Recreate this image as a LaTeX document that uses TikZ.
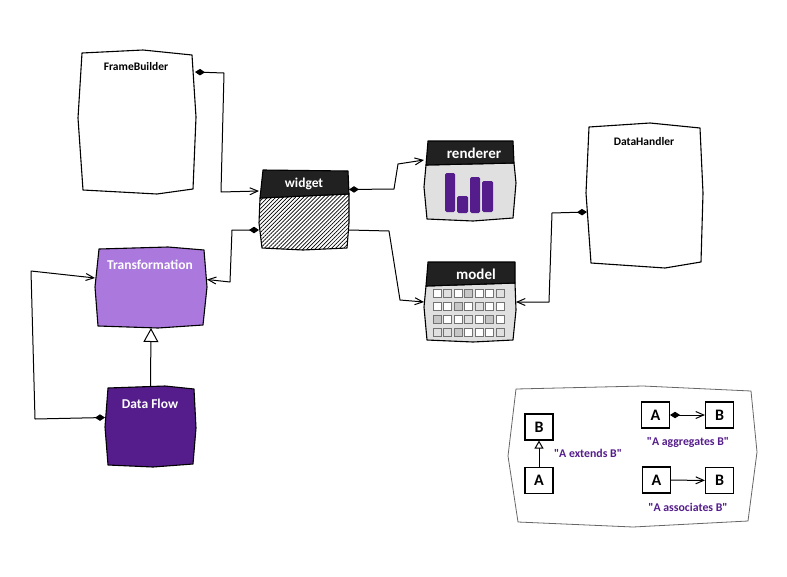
\documentclass[tikz,border=0pt]{standalone}
\usepackage{fontspec}
\newfontfamily\handfont{Carlito}
\usetikzlibrary{arrows.meta,patterns.meta}
\definecolor{darkbar}{RGB}{33,33,33}
\definecolor{deeppurple}{RGB}{85,29,139}
\definecolor{softpurple}{RGB}{171,120,222}
\definecolor{panelgray}{RGB}{224,224,224}
\definecolor{cellw}{RGB}{255,255,255}
\definecolor{celll}{RGB}{224,224,224}
\definecolor{cellg}{RGB}{198,198,198}
\tikzset{
    outline/.style={draw=black,line width=1.1pt,line join=round},
    anchorbox/.style={inner sep=0pt,outer sep=0pt,minimum width=#1},
    title/.style={font=\handfont\bfseries\fontsize{11.5}{14}\selectfont},
    whitetitle/.style={text=white,font=\handfont\bfseries\fontsize{13.5}{16}\selectfont},
    bartitle/.style={text=white,font=\handfont\bfseries\fontsize{15}{17}\selectfont},
    legendbox/.style={draw=black,fill=white,line width=1.1pt,inner sep=0pt,minimum width=28pt,minimum height=26pt,font=\handfont\bfseries\fontsize{16}{18}\selectfont},
    legendtext/.style={text=deeppurple,font=\handfont\bfseries\fontsize{11.8}{13}\selectfont},
    link/.style={draw=black,line width=1pt,line join=round},
    assoc/.style={link,-{Straight Barb[length=8pt,width=7pt]}},
    aggr/.style={link,{Diamond[length=10pt,width=6.5pt]}-{Straight Barb[length=8pt,width=7pt]}},
    extends/.style={link,-{Triangle[open,fill=white,length=14pt,width=15pt]}},
    extendsmini/.style={link,-{Triangle[open,fill=white,length=8pt,width=9pt]}},
}
\begin{document}
\begin{tikzpicture}[x=1pt,y=-1pt]
    \useasboundingbox (0,0) rectangle (787,576);
    % frame builder
    \draw[outline,fill=white] (82,53) -- (143,50) -- (192,55) -- (196,117) -- (193,189) -- (157,194) -- (83,190) -- (78,118) -- cycle;
    \node[anchorbox=116pt,minimum height=141pt] (framebuilder) at (137,122) {};
    \node[title] (framebuildertitle) at (136,67) {FrameBuilder};
    % transformation
    \draw[outline,fill=softpurple] (99,249) -- (168,247) -- (204,250) -- (207,287) -- (203,325) -- (158,328) -- (98,326) -- (95,287) -- cycle;
    \node[anchorbox=112pt,minimum height=81pt] (transformation) at (151,287.5) {};
    \node[whitetitle] (transformationtitle) at (150,265) {Transformation};
    % data flow
    \draw[outline,fill=deeppurple] (108,388) -- (165,386) -- (194,389) -- (196,428) -- (193,464) -- (153,467) -- (108,465) -- (105,427) -- cycle;
    \node[anchorbox=91pt,minimum height=81pt] (dataflow) at (150.5,426.5) {};
    \node[whitetitle] (dataflowtitle) at (150,404) {Data Flow};
    % widget
    \draw[outline,pattern={Lines[angle=45,distance=2.8pt,line width=0.7pt]}] (260,198) -- (349,194) -- (349,223) -- (347,248) -- (303,250) -- (262,248) -- (259,223) -- cycle;
    \draw[outline,fill=darkbar] (263,170) -- (348,171) -- (349,194) -- (260,198) -- cycle;
    \node[anchorbox=90pt,minimum height=80pt] (widget) at (304,210) {};
    \node[whitetitle] (widgettitle) at (304,184) {widget};
    % renderer
    \draw[outline,fill=panelgray] (426,165) -- (514,163) -- (516,183) -- (513,218) -- (473,221) -- (427,219) -- (424,187) -- cycle;
    \draw[outline,fill=darkbar] (428,141) -- (513,141) -- (514,163) -- (426,165) -- cycle;
    \node[anchorbox=92pt,minimum height=80pt] (renderer) at (470,181) {};
    \node[bartitle] (renderertitle) at (474,153) {renderer};
    \foreach \xa/\xb/\ytop/\ybot in {445/455/173/212,457/468/196/213,470/480/177/213,482/493/181/212}
        \fill[deeppurple,rounded corners=1.5pt] (\xa,\ytop) rectangle (\xb,\ybot);
    % model
    \draw[outline,fill=panelgray] (426,286) -- (515,283) -- (516,310) -- (513,340) -- (473,342) -- (427,340) -- (424,307) -- cycle;
    \draw[outline,fill=darkbar] (428,262) -- (515,262) -- (515,283) -- (426,286) -- cycle;
    \node[anchorbox=92pt,minimum height=80pt] (model) at (470,302) {};
    \node[bartitle] (modeltitle) at (476,274) {model};
    \foreach \celly/\cells in {293.5/{w,l,w,g,w,w,l},306.5/{w,w,g,w,l,w,w},319/{g,w,w,l,w,g,w},332/{l,l,g,w,w,w,l}}
        \foreach \c [count=\i from 0] in \cells
            \draw[draw=black!55,line width=0.8pt,fill=cell\c] ({437+10.5*\i-4},\celly-4) rectangle ({437+10.5*\i+4},\celly+4);
    % data handler
    \draw[outline,fill=white] (589,127) -- (650,123) -- (700,128) -- (703,193) -- (701,262) -- (665,268) -- (591,263) -- (586,193) -- cycle;
    \node[anchorbox=116pt,minimum height=141pt] (datahandler) at (645,195) {};
    \node[title] (datahandlertitle) at (644,141.5) {DataHandler};
    % connections
    \draw[aggr] ([yshift=50pt]framebuilder.east) -- (224,73) -- (221,192) -- ([yshift=19pt]widget.west);
    \draw[aggr] ([yshift=20.5pt]widget.east) -- (394,189) -- (398,164) -- ([yshift=21pt]renderer.west);
    \draw[assoc] ([yshift=-20pt]widget.east) -- (389,231) -- (400,300) -- (model.west);
    \draw[aggr] ([yshift=-20pt]widget.west) -- (232,230) -- (230,282) -- ([yshift=8pt]transformation.east);
    \draw[aggr] ([yshift=9pt]dataflow.west) -- (35,419) -- (31,271) -- ([yshift=9.5pt]transformation.west);
    \draw[aggr] ([yshift=-17pt]datahandler.west) -- (552,213) -- (549,302) -- (model.east);
    \draw[extends] (dataflow.north) -- (transformation.south);
    % legend
    \draw[draw=black!60,line width=0.8pt,fill=white] (516,389) -- (643,386) -- (751,391) -- (757,452) -- (748,521) -- (633,527) -- (518,522) -- (508,456) -- cycle;
    \node[legendbox] (extB) at (539,427) {B};
    \node[legendbox] (extA) at (539,480.5) {A};
    \node[legendbox] (aggA) at (655.5,415) {A};
    \node[legendbox] (aggB) at (719.5,415) {B};
    \node[legendbox] (assA) at (656.5,480) {A};
    \node[legendbox] (assB) at (719.5,480.5) {B};
    \draw[extendsmini] (extA) -- (extB);
    \draw[aggr] (aggA) -- (aggB);
    \draw[assoc] (assA) -- (assB);
    \node[legendtext] (extlabel) at (588,453.5) {"A extends B"};
    \node[legendtext] (agglabel) at (688,442.5) {"A aggregates B"};
    \node[legendtext] (asslabel) at (688,507.5) {"A associates B"};
\end{tikzpicture}
\end{document}
